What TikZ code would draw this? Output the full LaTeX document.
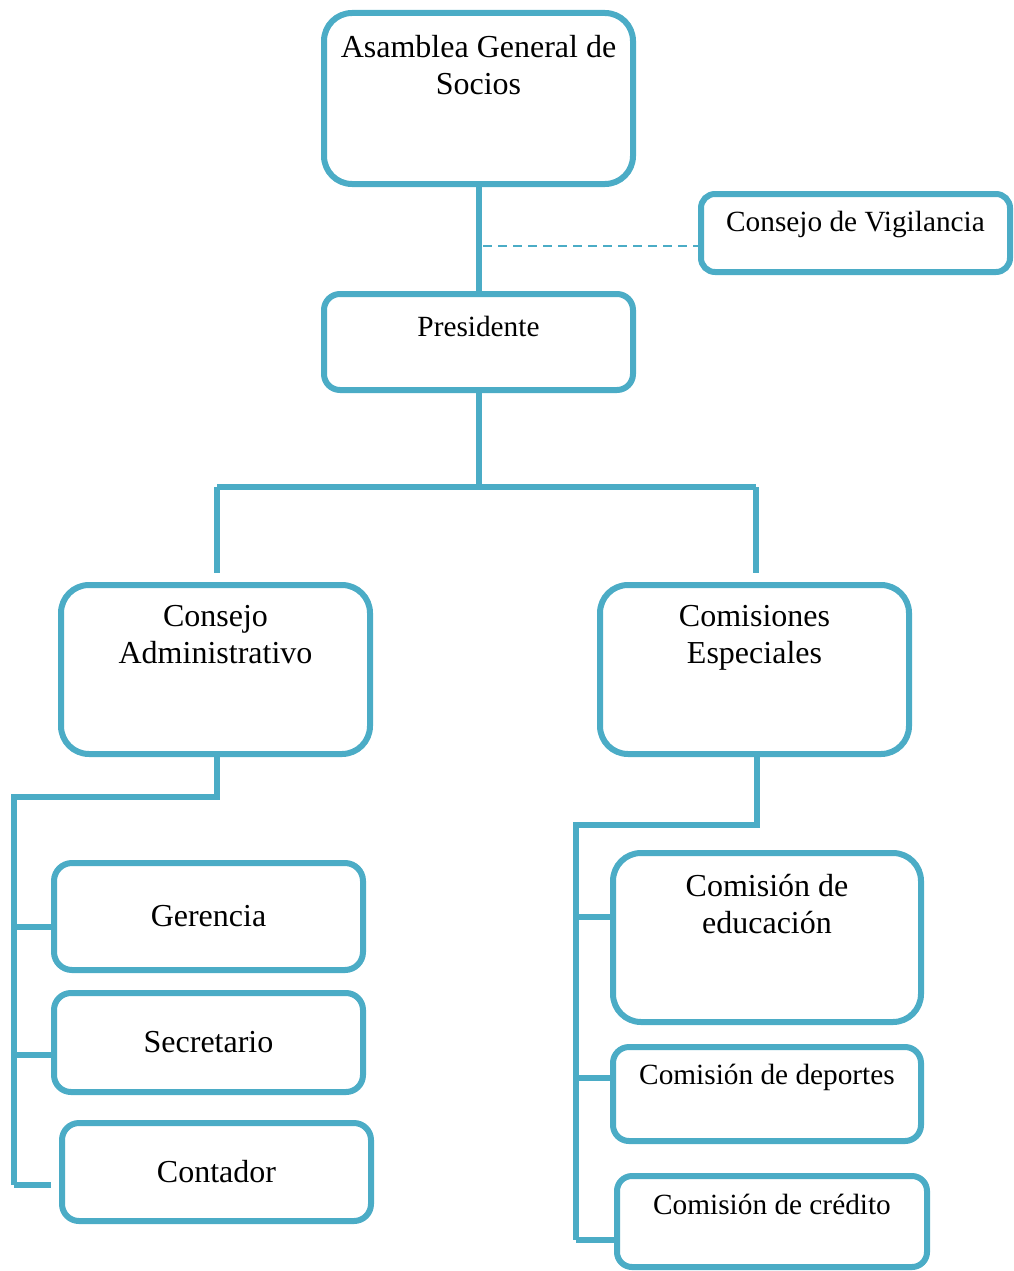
\documentclass[tikz,border=0pt]{standalone}
\usepackage{fontspec}
\setmainfont{Liberation Serif}
\definecolor{acc}{HTML}{4BACC6}
\begin{document}
\begin{tikzpicture}[x=1pt,y=-1pt,
  box/.style={draw=acc, line width=6pt, fill=white, rectangle, inner sep=0pt},
  lbl/.style={inner sep=0pt, align=center, text=black},
  big/.style={font=\fontsize{32}{37.5}\selectfont},
  mid/.style={font=\fontsize{29.3}{34}\selectfont},
  conn/.style={draw=acc, line width=6pt, line join=miter},
  dconn/.style={draw=acc, line width=2.5pt, dash pattern=on 9pt off 6pt}]
\useasboundingbox (0,0) rectangle (1013,1271);

% boxes
\node[box, minimum width=309pt, minimum height=171pt, rounded corners=28pt,
  label={[lbl,big,anchor=north,yshift=-25pt]north:{Asamblea General de\\Socios}}] (asam) at (478.5,98.5) {};
\node[box, minimum width=309pt, minimum height=78pt, rounded corners=14pt,
  label={[lbl,mid,anchor=north,yshift=-20pt]north:{Consejo de Vigilancia}}] (vig) at (855.5,233) {};
\node[box, minimum width=309pt, minimum height=96pt, rounded corners=16pt,
  label={[lbl,mid,anchor=north,yshift=-25pt]north:{Presidente}}] (pres) at (478.5,342) {};
\node[box, minimum width=309pt, minimum height=169pt, rounded corners=28pt,
  label={[lbl,big,anchor=north,yshift=-23pt]north:{Consejo\\Administrativo}}] (cadm) at (215.5,669.5) {};
\node[box, minimum width=309pt, minimum height=169pt, rounded corners=28pt,
  label={[lbl,big,anchor=north,yshift=-23pt]north:{Comisiones\\Especiales}}] (cesp) at (754.5,669.5) {};

\node[box, big, minimum width=309pt, minimum height=107pt, rounded corners=18pt] (ger) at (208.5,916.5) {Gerencia};
\node[box, big, minimum width=309pt, minimum height=99pt, rounded corners=17pt] (sec) at (208.5,1042.5) {Secretario};
\node[box, big, minimum width=309pt, minimum height=98pt, rounded corners=17pt] (cont) at (216.5,1172) {Contador};

\node[box, minimum width=308pt, minimum height=169pt, rounded corners=28pt,
  label={[lbl,big,anchor=north,yshift=-24pt]north:{Comisión de\\educación}}] (edu) at (767,937.5) {};
\node[box, minimum width=308pt, minimum height=94pt, rounded corners=16pt,
  label={[lbl,mid,anchor=north,yshift=-20pt]north:{Comisión de deportes}}] (dep) at (767,1094) {};
\node[box, minimum width=310pt, minimum height=91pt, rounded corners=15pt,
  label={[lbl,mid,anchor=north,yshift=-21pt]north:{Comisión de crédito}}] (cred) at (772,1221.5) {};

% top connectors
\draw[conn] (asam.south) -- (pres.north);
\coordinate (dj) at (483,246);
\draw[dconn] (dj) -- (dj -| vig.west);

\coordinate (hb) at (479,487);
\draw[conn] (pres.south) -- (pres.south |- hb);
\coordinate (hl) at (217,487);
\coordinate (hr) at (756,487);
\draw[conn] (hl) -- (hr);
\draw[conn] (hl) -- ([yshift=9pt]hl |- cadm.north);
\draw[conn] (hr) -- ([yshift=9pt]hr |- cesp.north);

% left tree
\coordinate (lt) at (14,797);
\coordinate (lb) at (14,1185);
\draw[conn] (217,754) -- (217,797) -- (lt) -- (lb);
\draw[conn] ([yshift=-10.5pt]lt |- ger.west) -- ([yshift=-10.5pt]ger.west);
\draw[conn] ([yshift=-12.5pt]lt |- sec.west) -- ([yshift=-12.5pt]sec.west);
\draw[conn] (lb) -- ([xshift=-8pt]lb -| cont.west);

% right tree
\coordinate (rt) at (576,825);
\coordinate (rb) at (576,1240);
\draw[conn] (757,754) -- (757,825) -- (rt) -- (rb);
\draw[conn] ([yshift=20.5pt]rt |- edu.west) -- ([yshift=20.5pt]edu.west);
\draw[conn] ([yshift=16pt]rt |- dep.west) -- ([yshift=16pt]dep.west);
\draw[conn] (rb) -- (rb -| cred.west);
\end{tikzpicture}
\end{document}
